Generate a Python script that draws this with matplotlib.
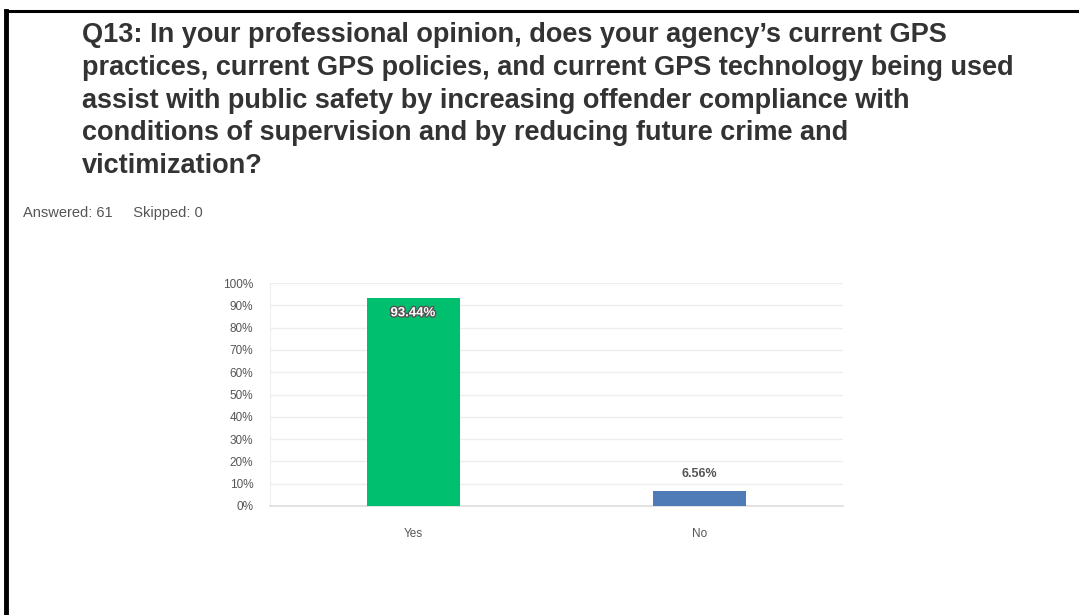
import matplotlib.pyplot as plt
import matplotlib.patheffects as pe
from matplotlib.lines import Line2D

categories = ['Yes', 'No']
percents = [93.44, 6.56]
bar_colors = ['#00bf6f', '#4f7cb7']
yticks = [0, 10, 20, 30, 40, 50, 60, 70, 80, 90, 100]

title = ("Q13: In your professional opinion, does your agency\u2019s current GPS\n"
         "practices, current GPS policies, and current GPS technology being used\n"
         "assist with public safety by increasing offender compliance with\n"
         "conditions of supervision and by reducing future crime and\n"
         "victimization?")
answered = 61
skipped = 0

W, H = 1079, 615
fig = plt.figure(figsize=(W / 100, H / 100), dpi=100)
plt.rcParams['font.family'] = ['Liberation Sans', 'DejaVu Sans']

# frame lines around the page (cut off at right and bottom)
fig.add_artist(Line2D([6 / W, 1], [1 - 11 / H, 1 - 11 / H], color='black', lw=2.2))
fig.add_artist(Line2D([6 / W, 6 / W], [0, 1 - 11 / H], color='black', lw=3.5))

fig.text(82 / W, 1 - 22 / H, title, ha='left', va='top', fontsize=19.5,
         fontweight='bold', color='#333333', linespacing=1.34)
fig.text(23 / W, 1 - 213 / H, 'Answered: %d     Skipped: %d' % (answered, skipped),
         ha='left', va='center', fontsize=10.5, color='#555555')

ax = fig.add_axes([270 / W, 1 - 506 / H, (843 - 270) / W, (506 - 283) / H])
x = range(len(categories))
bars = ax.bar(x, percents, width=0.325, color=bar_colors, zorder=3)
ax.set_xlim(-0.5, 1.5)
ax.set_ylim(0, 100)
ax.set_yticks(yticks)
ax.set_yticklabels(['%d%%' % t for t in yticks])
ax.set_xticks(list(x))
ax.set_xticklabels(categories)
ax.tick_params(axis='both', length=0, labelsize=8.5, colors='#555555')
ax.tick_params(axis='y', pad=12)
ax.tick_params(axis='x', pad=16)
ax.grid(axis='y', color='#eeeeee', lw=1, zorder=0)
for s in ['top', 'right']:
    ax.spines[s].set_visible(False)
ax.spines['left'].set_color('#eeeeee')
ax.spines['bottom'].set_color('#dddddd')
ax.spines['bottom'].set_linewidth(1.2)

# value labels: inside the tall bar, above the short one
for xi, v in zip(x, percents):
    if v > 50:
        ax.text(xi, v - 7, '%.2f%%' % v, ha='center', va='center', fontsize=9.5,
                color='white', fontweight='bold', zorder=4,
                path_effects=[pe.withStroke(linewidth=2, foreground='#555555')])
    else:
        ax.text(xi, v + 8, '%.2f%%' % v, ha='center', va='center', fontsize=9,
                color='#555555', fontweight='bold', zorder=4)

fig.savefig('out.png', dpi=100)
